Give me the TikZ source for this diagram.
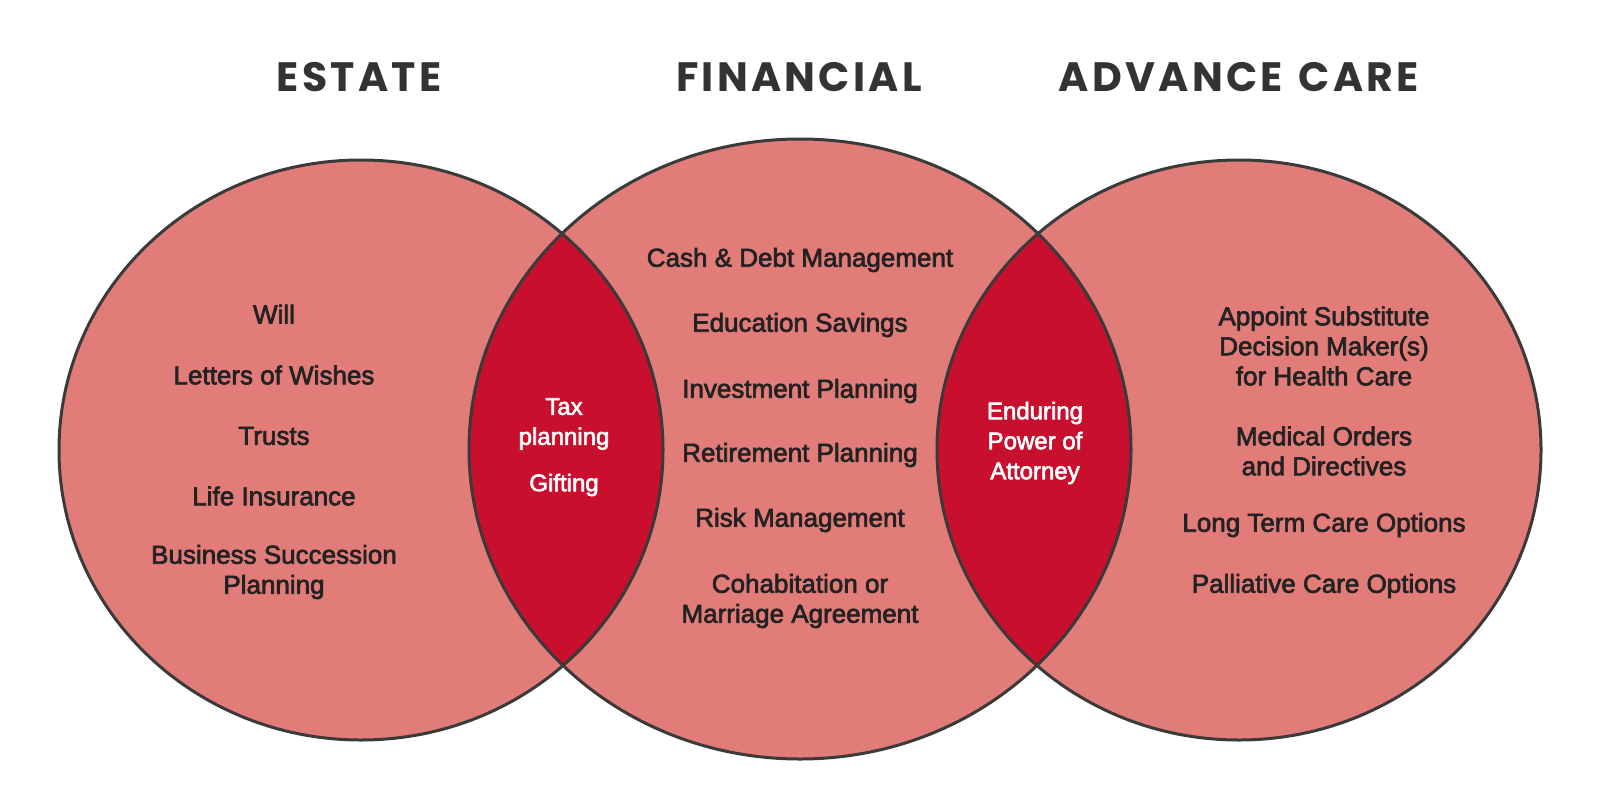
\documentclass[tikz,border=0pt]{standalone}
\usepackage{fontspec}
\usepackage{tikz}
\usepackage{xcolor}
\newfontfamily\itemfont{Liberation Sans}[FakeBold=2.5]
\newfontfamily\titlefont[LetterSpace=8]{Poppins}
\definecolor{circlefill}{HTML}{E17C79}
\definecolor{overlapred}{HTML}{C8102E}
\definecolor{rimgray}{HTML}{3A3A3A}
\definecolor{labeltext}{HTML}{222222}
\definecolor{headgray}{HTML}{333333}

\begin{document}
\begin{tikzpicture}[x=1pt, y=-1pt,
    rim/.style={draw=rimgray, line width=3pt},
    item/.style={font={\itemfont\fontsize{26}{30}\selectfont}, text=labeltext, align=center, inner sep=0pt},
    lens/.style={font={\itemfont\fontsize{24}{30}\selectfont}, text=white, align=center, inner sep=0pt},
    head/.style={font={\titlefont\bfseries\fontsize{41}{44}\selectfont}, text=headgray, inner sep=0pt}]
    \useasboundingbox (0,0) rectangle (1600,790);

    % Circles
    \fill[circlefill] (361,450) ellipse [x radius=302, y radius=290];
    \fill[circlefill] (800,449) ellipse [x radius=331, y radius=310];
    \fill[circlefill] (1239,450) ellipse [x radius=302, y radius=290];

    % Overlaps
    \begin{scope}
        \clip (361,450) ellipse [x radius=302, y radius=290];
        \fill[overlapred] (800,449) ellipse [x radius=331, y radius=310];
    \end{scope}
    \begin{scope}
        \clip (1239,450) ellipse [x radius=302, y radius=290];
        \fill[overlapred] (800,449) ellipse [x radius=331, y radius=310];
    \end{scope}

    % Outlines
    \draw[rim] (361,450) ellipse [x radius=302, y radius=290];
    \draw[rim] (800,449) ellipse [x radius=331, y radius=310];
    \draw[rim] (1239,450) ellipse [x radius=302, y radius=290];

    % Headings
    \node[head] (estate) at (359,77) {ESTATE};
    \node[head] (financial) at (799,77) {FINANCIAL};
    \node[head] (advcare) at (1239,77) {ADVANCE\hspace{4pt} CARE};

    % Estate
    \node[item] (will) at (274,314) {Will};
    \node[item] (wishes) at (274,375) {Letters of Wishes};
    \node[item] (trusts) at (274,436) {Trusts};
    \node[item] (lifeins) at (274,496) {Life Insurance};
    \node[item] (succession) at (274,572) {Business Succession\\Planning};

    % Financial
    \node[item] (cashdebt) at (800,260) {Cash \& Debt Management};
    \node[item] (education) at (800,325) {Education Savings};
    \node[item] (investment) at (800,391) {Investment Planning};
    \node[item] (retirement) at (800,455) {Retirement Planning};
    \node[item] (risk) at (800,520) {Risk Management};
    \node[item] (cohab) at (800,601) {Cohabitation or\\Marriage Agreement};

    % Advance care
    \node[item] (substitute) at (1324,346) {Appoint Substitute\\Decision Maker(s)\\for Health Care};
    \node[item] (orders) at (1324,451) {Medical Orders\\and Directives};
    \node[item] (longterm) at (1324,525) {Long Term Care Options};
    \node[item] (palliative) at (1324,586) {Palliative Care Options};

    % Overlap labels
    \node[lens] (tax) at (564,424) {Tax\\planning};
    \node[lens] (gifting) at (564,485) {Gifting};
    \node[lens] (poa) at (1035,443) {Enduring\\Power of\\Attorney};
\end{tikzpicture}
\end{document}
